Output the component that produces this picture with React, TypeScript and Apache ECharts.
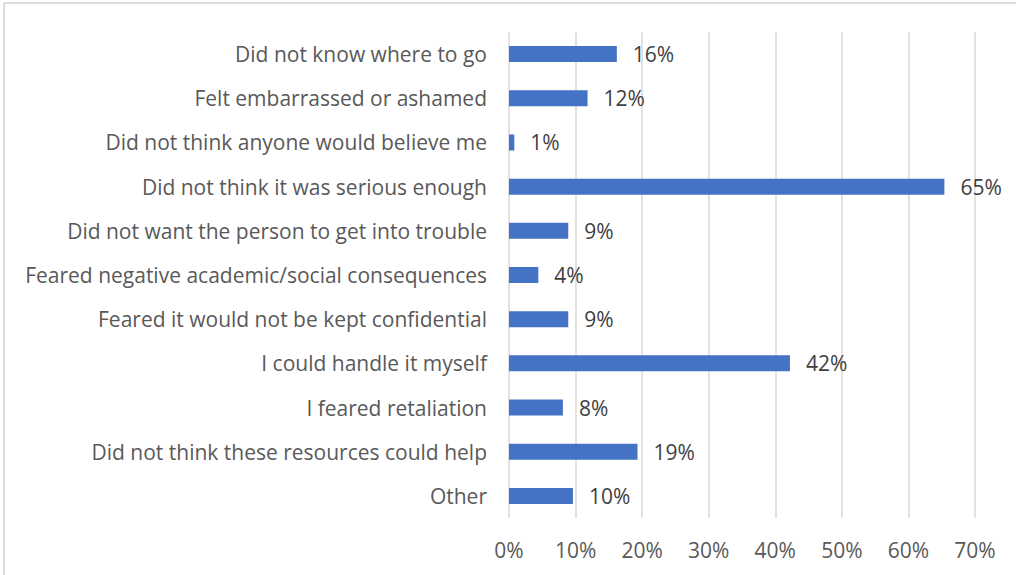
import React, { useEffect, useRef } from "react";
import * as echarts from "echarts";

const categories = [
  "Did not know where to go",
  "Felt embarrassed or ashamed",
  "Did not think anyone would believe me",
  "Did not think it was serious enough",
  "Did not want the person to get into trouble",
  "Feared negative academic/social consequences",
  "Feared it would not be kept confidential",
  "I could handle it myself",
  "I feared retaliation",
  "Did not think these resources could help",
  "Other",
];
const values = [16.2, 11.8, 0.8, 65.4, 8.9, 4.4, 8.9, 42.2, 8.1, 19.3, 9.6];
const tickValues = [0, 10, 20, 30, 40, 50, 60, 70];

const FONT = "'Open Sans', sans-serif";

export default function App() {
  const ref = useRef<HTMLDivElement>(null);
  useEffect(() => {
    if (!ref.current) return;
    const chart = echarts.init(ref.current, null, { renderer: "svg" });
    chart.setOption({
      animation: false,
      backgroundColor: "#ffffff",
      textStyle: { fontFamily: FONT },
      grid: { left: 509, right: 41, top: 32, bottom: 57, containLabel: false },
      graphic: [
        {
          type: "line",
          shape: { x1: 4, y1: 3, x2: 1016, y2: 3 },
          style: { stroke: "#d0d0d0", lineWidth: 1.5 },
        },
        {
          type: "line",
          shape: { x1: 4, y1: 3, x2: 4, y2: 575 },
          style: { stroke: "#d0d0d0", lineWidth: 1.5 },
        },
      ],
      xAxis: {
        type: "value",
        min: tickValues[0],
        max: tickValues[tickValues.length - 1],
        interval: 10,
        axisLine: { show: false },
        axisTick: { show: false },
        splitLine: { show: true, lineStyle: { color: "#d9d9d9", width: 1.5 } },
        axisLabel: {
          formatter: (v: number) => `${v}%`,
          fontSize: 21,
          color: "#595959",
          fontFamily: FONT,
          margin: 21,
        },
      },
      yAxis: {
        type: "category",
        data: categories,
        inverse: true,
        axisLine: { show: false },
        axisTick: { show: false },
        splitLine: { show: false },
        axisLabel: {
          fontSize: 21,
          color: "#595959",
          fontFamily: FONT,
          margin: 22,
        },
      },
      series: [
        {
          type: "bar",
          data: values,
          barWidth: 16,
          itemStyle: { color: "#4472C4" },
          label: {
            show: true,
            position: "right",
            distance: 16,
            fontSize: 21,
            color: "#404040",
            fontFamily: FONT,
            formatter: (p: any) => `${Math.round(p.value)}%`,
          },
        },
      ],
    });
    return () => chart.dispose();
  }, []);
  return (
    <div
      ref={ref}
      style={{ position: "fixed", left: 0, top: 0, width: 1016, height: 575 }}
    />
  );
}
